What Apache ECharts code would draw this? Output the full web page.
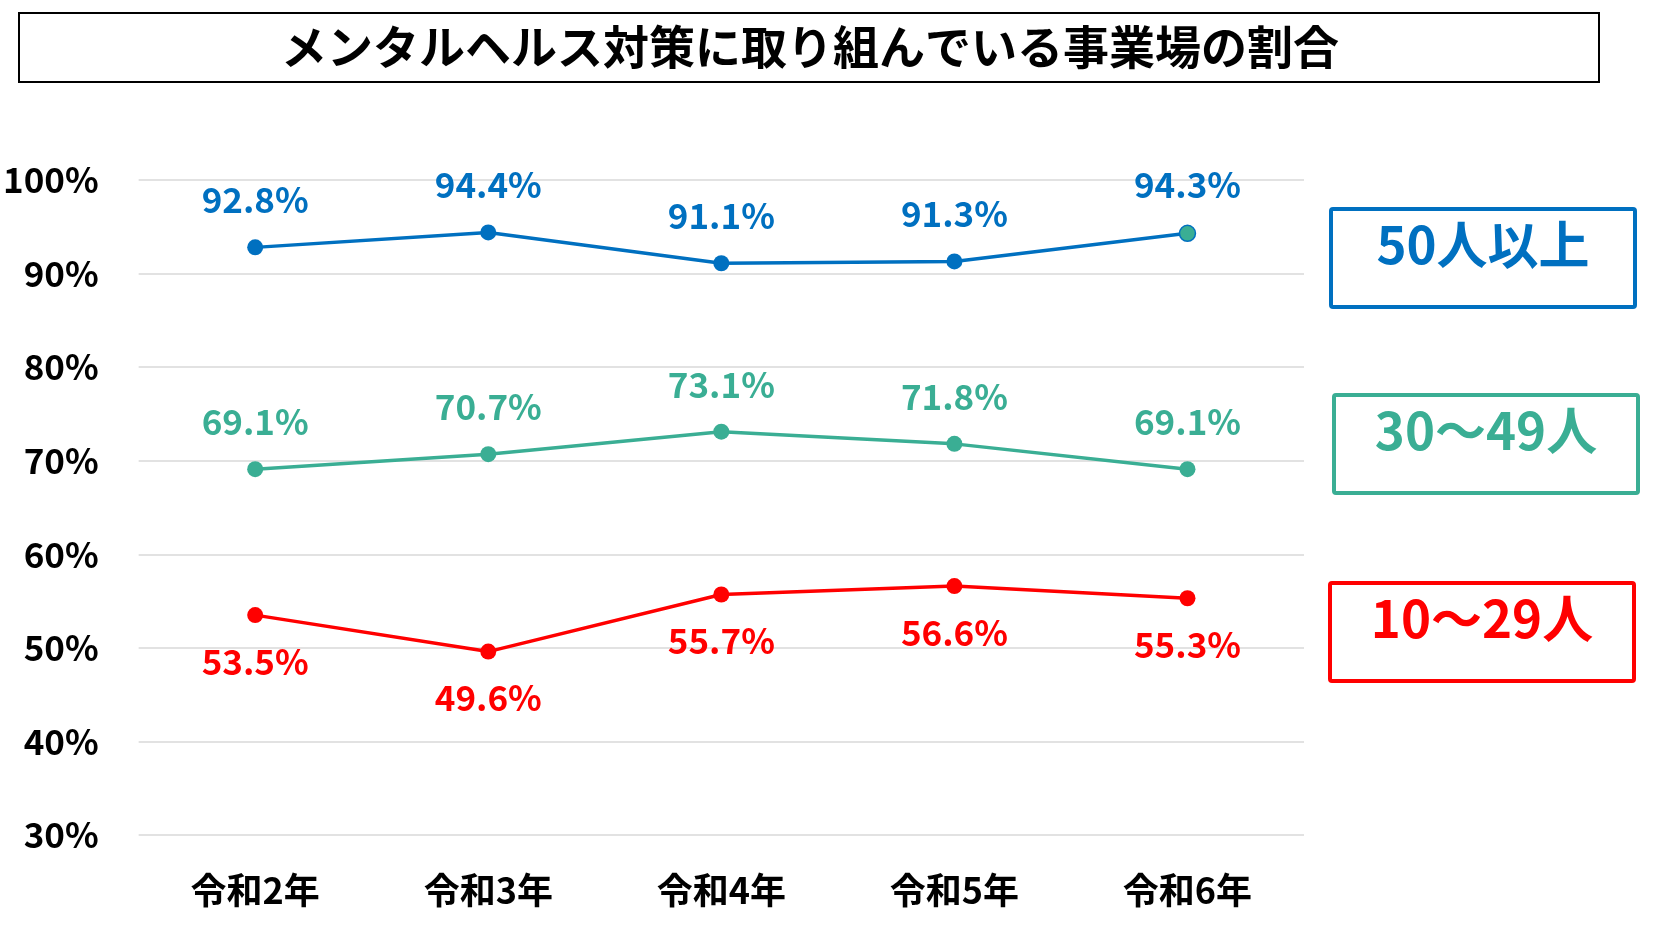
<!DOCTYPE html>
<html><head><meta charset="utf-8">
<script src="https://cdn.jsdelivr.net/npm/echarts@6/dist/echarts.min.js"></script>
<style>html,body{margin:0;padding:0;background:#fff}#c{width:1656px;height:945px}</style>
</head><body><div id="c"></div>
<script>
const titleText = 'メンタルヘルス対策に取り組んでいる事業場の割合';
const categories = ['令和2年','令和3年','令和4年','令和5年','令和6年'];
const seriesNames = ['50人以上','30～49人','10～29人'];
const values50 = [92.8, 94.4, 91.1, 91.3, 94.3];
const values30 = [69.1, 70.7, 73.1, 71.8, 69.1];
const values10 = [53.5, 49.6, 55.7, 56.6, 55.3];
const yTicks = {min: 30, max: 100, interval: 10};

const BLUE = '#0070C0', GREEN = '#3AAE94', RED = '#FF0000';
const FONT = '"Noto Sans CJK JP", "Noto Sans", sans-serif';

const chart = echarts.init(document.getElementById('c'), null, {renderer: 'canvas'});

function mkSeries(name, data, color, pos, dist, special) {
  return {
    name, type: 'line', data: data.map((v, i) => {
      if (special && i === data.length - 1) {
        return {value: v, itemStyle: {color: GREEN, borderColor: BLUE, borderWidth: 1.5}};
      }
      return v;
    }),
    symbol: 'circle', symbolSize: 16,
    lineStyle: {color, width: 3.5},
    itemStyle: {color},
    label: {show: true, position: pos, distance: dist, color, fontSize: 35, fontWeight: 'bold', fontFamily: FONT,
      formatter: p => p.value.toFixed(1) + '%'},
    emphasis: {disabled: true}, animation: false
  };
}

function legendBox(x, y, w, h, text, color) {
  return {
    type: 'group', children: [
      {type: 'rect', shape: {x, y, width: w, height: h, r: 2}, style: {fill: '#fff', stroke: color, lineWidth: 4}},
      {type: 'text', x: x + w / 2, y: y + 36, style: {text, fill: color, font: 'bold 51px ' + FONT, textAlign: 'center', textVerticalAlign: 'middle'}}
    ]
  };
}

chart.setOption({
  animation: false,
  backgroundColor: '#fff',
  grid: {left: 137, right: 352, top: 180, bottom: 110, containLabel: false},
  xAxis: {type: 'category', data: categories, boundaryGap: true,
    axisLine: {show: false}, axisTick: {show: false},
    axisLabel: {fontSize: 36, fontWeight: 'bold', color: '#000', fontFamily: FONT, margin: 37}},
  yAxis: {type: 'value', min: yTicks.min, max: yTicks.max, interval: yTicks.interval,
    axisLine: {show: false}, axisTick: {show: false},
    splitLine: {lineStyle: {color: '#D9D9D9', width: 1.5}},
    axisLabel: {fontSize: 35, fontWeight: 'bold', color: '#000', fontFamily: FONT, margin: 40,
      padding: [0, 0, 12, 0], formatter: v => v + '%'}},
  series: [
    mkSeries(seriesNames[0], values50, BLUE, 'top', 22, true),
    mkSeries(seriesNames[1], values30, GREEN, 'top', 22, false),
    mkSeries(seriesNames[2], values10, RED, 'bottom', 21, false)
  ],
  graphic: [
    {type: 'rect', shape: {x: 19, y: 13, width: 1580, height: 69}, style: {fill: '#fff', stroke: '#000', lineWidth: 2}},
    {type: 'text', x: 810, y: 47, style: {text: titleText, fill: '#000', font: 'bold 46px ' + FONT, textAlign: 'center', textVerticalAlign: 'middle'}},
    legendBox(1331, 209, 304, 98, seriesNames[0], BLUE),
    legendBox(1334, 395, 304, 98, seriesNames[1], GREEN),
    legendBox(1330, 583, 304, 98, seriesNames[2], RED)
  ]
});
</script></body></html>
